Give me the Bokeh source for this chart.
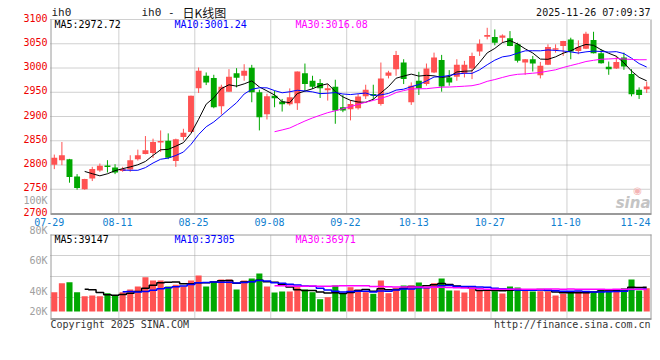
import numpy as np
from bokeh.plotting import figure
from bokeh.models import ColumnDataSource, Range1d, Label
from bokeh.embed import file_html
from bokeh.resources import INLINE

# ---------------- data ----------------
dates = ["07-29", "07-30", "07-31", "08-01", "08-04", "08-05", "08-06", "08-07", "08-08",
         "08-11", "08-12", "08-13", "08-14", "08-15", "08-18", "08-19", "08-20", "08-21", "08-22",
         "08-25", "08-26", "08-27", "08-28", "08-29", "09-01", "09-02", "09-03", "09-04", "09-05",
         "09-08", "09-09", "09-10", "09-11", "09-12", "09-15", "09-16", "09-17", "09-18", "09-19",
         "09-22", "09-23", "09-24", "09-25", "09-26", "09-29", "09-30", "10-09", "10-10",
         "10-13", "10-14", "10-15", "10-16", "10-17", "10-20", "10-21", "10-22", "10-23", "10-24",
         "10-27", "10-28", "10-29", "10-30", "10-31", "11-03", "11-04", "11-05", "11-06", "11-07",
         "11-10", "11-11", "11-12", "11-13", "11-14", "11-17", "11-18", "11-19", "11-20", "11-21",
         "11-24"]

opens = [2800.3, 2809.9, 2811.9, 2776.4, 2749.8, 2772.4, 2788.7, 2799.0, 2794.9, 2787.4,
         2790.8, 2811.9, 2822.9, 2824.9, 2846.7, 2850.2, 2808.5, 2857.7, 2867.9, 2958.0,
         2984.0, 2979.2, 2921.2, 2951.2, 2989.4, 2984.0, 3000.3, 2949.8, 2904.8, 2943.0,
         2930.7, 2925.3, 2927.3, 2989.4, 2973.7, 2968.9, 2953.9, 2961.4, 2919.1,
         2915.0, 2917.0, 2941.6, 2946.4, 2925.9, 2984.0, 2997.6, 3011.3, 2929.4, 2973.7,
         2966.9, 2990.8, 3016.7, 2980.5, 2981.9, 2989.4, 2999.0, 3033.8, 3064.5, 3063.8,
         3062.5, 3061.1, 3048.8, 3011.3, 3018.1, 2985.3, 3006.5, 3038.6, 3045.4, 3059.0,
         3035.2, 3039.9, 3057.7, 3030.4, 3002.4, 2999.0, 3021.5, 2987.4, 2955.3, 2956.0]
highs = [2821.5, 2847.4, 2812.6, 2781.2, 2771.5, 2796.2, 2803.1, 2809.9, 2801.7, 2796.2,
         2820.1, 2831.7, 2859.7, 2854.3, 2871.3, 2865.2, 2854.3, 2874.7, 2943.0, 3001.0,
         2990.8, 2986.0, 2965.5, 2997.6, 2999.7, 3007.8, 3006.5, 2955.3, 2947.1, 2953.2,
         2936.2, 2958.0, 2992.8, 3009.2, 2984.0, 2977.1, 2966.9, 2975.8, 2944.4,
         2934.0, 2946.4, 2965.5, 2965.5, 3011.3, 2994.2, 3035.2, 3018.1, 2970.3, 2992.2,
         3009.2, 3031.7, 3027.0, 2995.6, 3018.1, 3014.7, 3031.7, 3059.0, 3082.9, 3079.5,
         3069.3, 3076.1, 3052.2, 3018.5, 3024.9, 3012.6, 3048.8, 3048.8, 3056.0, 3062.5,
         3057.0, 3074.7, 3074.7, 3038.6, 3013.3, 3024.9, 3031.7, 2997.6, 2960.0, 2971.7]
lows = [2791.5, 2799.7, 2763.5, 2749.1, 2749.0, 2766.9, 2786.0, 2784.6, 2781.2, 2786.0,
        2786.0, 2809.2, 2822.0, 2814.7, 2827.0, 2812.0, 2796.2, 2850.9, 2867.0, 2948.5,
        2964.8, 2917.0, 2904.1, 2951.0, 2960.0, 2973.7, 2929.4, 2871.3, 2893.9, 2919.1,
        2910.2, 2922.5, 2913.6, 2951.2, 2956.7, 2938.2, 2932.8, 2885.0, 2908.9,
        2892.0, 2914.3, 2936.2, 2934.8, 2922.5, 2978.5, 2984.0, 2966.9, 2923.9, 2944.4,
        2963.5, 2989.4, 2951.2, 2963.5, 2973.7, 2980.5, 2977.1, 3024.9, 3059.0, 3046.8,
        3052.2, 3045.0, 3011.3, 2986.0, 2992.8, 2978.5, 3006.0, 3031.7, 3024.9, 3018.1,
        3028.3, 3039.0, 3030.0, 3009.0, 2986.0, 2998.0, 2996.2, 2941.6, 2936.2, 2948.5]
closes = [2814.7, 2820.1, 2775.1, 2752.6, 2771.0, 2791.5, 2798.3, 2796.2, 2784.6, 2791.5,
          2809.9, 2820.1, 2830.4, 2847.4, 2848.8, 2814.7, 2852.9, 2866.6, 2943.0, 2994.2,
          2970.3, 2919.1, 2961.4, 2981.9, 2979.9, 2994.2, 2949.8, 2898.6, 2941.6, 2937.5,
          2925.3, 2939.6, 2992.8, 2966.9, 2961.4, 2958.0, 2958.0, 2912.3, 2912.3,
          2925.9, 2941.0, 2955.3, 2943.0, 2978.5, 2990.8, 3027.0, 2977.1, 2963.5, 2958.0,
          2999.0, 3021.5, 2962.1, 2970.3, 3006.5, 3006.5, 3024.9, 3050.2, 3067.9, 3052.2,
          3067.2, 3045.4, 3014.7, 3018.1, 3009.2, 3004.4, 3043.3, 3040.0, 3055.6, 3033.8,
          3043.3, 3070.6, 3030.4, 3009.9, 2997.6, 3012.6, 3003.1, 2945.7, 2944.4, 2962.1]
volumes = [34800, 43800, 44800, 34800, 30800, 31500, 30800, 33800, 31500, 34800,
           37500, 40500, 49800, 46500, 46500, 40500, 42200, 40500, 46500, 51500,
           40500, 45500, 47500, 47500, 37500, 46500, 48500, 53500, 40500, 34500,
           35500, 35500, 39800, 37500, 34800, 27800, 29800, 41500, 33800, 39800,
           37500, 34800, 33200, 46500, 33800, 38800, 41500, 41500, 44500, 39800,
           43800, 48500, 36500, 36500, 34500, 38200, 36500, 37500, 35800, 33500,
           40500, 39500, 36200, 35500, 35800, 35500, 31500, 33200, 35800, 35800,
           35500, 34800, 37500, 37500, 37500, 38800, 47500, 36500, 38800]

label_dates = ["07-29", "08-11", "08-25", "09-08", "09-22", "10-13", "10-27", "11-10", "11-24"]
price_ticks = [2700, 2750, 2800, 2850, 2900, 2950, 3000, 3050, 3100]
vol_labels = ["20K", "40K", "60K", "80K", "100K"]
symbol = "ih0"
title_code = "ih0 -"
title_cn = "日K线图"
timestamp = "2025-11-26 07:09:37"
price_ma_text = ["MA5:2972.72", "MA10:3001.24", "MA30:3016.08"]
vol_ma_text = ["MA5:39147", "MA10:37305", "MA30:36971"]
copyright_text = "Copyright 2025 SINA.COM"
url_text = "http://finance.sina.com.cn"

# ---------------- style / geometry (pixels) ----------------
RED = "#ff5252"
GREEN = "#00a800"
GRID = "#a0a0a0"
BORDER = "#9a9a9a"
DATE_BLUE = "#1080d0"
MONO = "DejaVu Sans Mono"
FS = "10px"
MA_COLORS = ["black", "#0000ff", "#ff00ff"]
MA_WINDOWS = [5, 10, 30]
W, H = 652, 334
FL, FR = 50, 650          # panel left / right
PT, PB = 19, 213          # price panel top / bottom
VT, VB = 234, 318         # volume panel top / bottom
V_FLOOR = 311             # bar base line
MA_TEXT_PX = [54, 174, 295]

n = len(dates)
x_lo, x_hi = -0.5, n - 0.5
px_x = (x_hi - x_lo) / (FR - FL)
p_lo, p_hi = price_ticks[0], price_ticks[-1]
px_p = (p_hi - p_lo) / (PB - PT)
v_lo, v_hi = 8500, 92500
px_v = (v_hi - v_lo) / (VB - VT)

def X(px):            # page x -> data x
    return x_lo + (px - FL) * px_x
def P(py):            # page y -> price
    return p_hi - (py - PT) * px_p
def V(py):            # page y -> volume
    return v_lo + (VB - py) * px_v

p = figure(width=W, height=H, output_backend="svg", toolbar_location=None,
           x_axis_type=None, y_axis_type=None,
           x_range=Range1d(X(0), X(W)), y_range=Range1d(P(H), P(0)),
           min_border=0, min_border_left=0, min_border_right=0,
           min_border_top=0, min_border_bottom=0)
p.extra_y_ranges = {"vol": Range1d(V(H), V(0))}
p.grid.visible = False
p.outline_line_color = None
p.background_fill_color = "white"
p.border_fill_color = "white"

# ---------------- derived values ----------------
x = np.arange(n)
o = np.array(opens); h = np.array(highs); l = np.array(lows); c = np.array(closes)
up = c >= o
colors = [RED if u else GREEN for u in up]
top = np.maximum(o, c)
bot = np.minimum(o, c)
thin = (top - bot) < 1.5 * px_p
mid = (o + c) / 2
top = np.where(thin, mid + 0.75 * px_p, top)
bot = np.where(thin, mid - 0.75 * px_p, bot)
src = ColumnDataSource(dict(x=x, h=h, l=l, top=top, bot=bot, color=colors,
                            vol=np.array(volumes, dtype=float)))

def ma(arr, w):
    a = np.asarray(arr, dtype=float)
    s = np.full(len(a), np.nan)
    for i in range(w - 1, len(a)):
        s[i] = a[i - w + 1:i + 1].mean()
    return s

tick_idx = [dates.index(d) for d in label_dates]
grid_x = [i - 0.5 for i in tick_idx]      # slot left edges

# ---------------- grids & borders ----------------
gx = grid_x[1:-1]
p.segment(x0=gx, x1=gx, y0=[p_lo] * len(gx), y1=[p_hi] * len(gx),
          line_color=GRID, line_dash="1 1", line_width=1)
p.segment(x0=gx, x1=gx, y0=[v_lo] * len(gx), y1=[v_hi] * len(gx),
          line_color=GRID, line_dash="1 1", line_width=1, y_range_name="vol")
gy = price_ticks[1:]
p.segment(x0=[x_lo] * len(gy), x1=[x_hi] * len(gy), y0=gy, y1=gy,
          line_color=GRID, line_dash="1 1", line_width=1)
vgy = [v_lo + k * (v_hi - v_lo) / 4 for k in (1, 2, 3)]
p.segment(x0=[x_lo] * 3, x1=[x_hi] * 3, y0=vgy, y1=vgy,
          line_color=GRID, line_dash="1 1", line_width=1, y_range_name="vol")
edge_l, edge_r = X(FL + 0.5), X(FR + 0.5)
p.segment(x0=[edge_l, edge_r], x1=[edge_l, edge_r], y0=[p_lo, p_lo], y1=[p_hi, p_hi],
          line_color=BORDER, line_width=1)
p.segment(x0=[x_lo], x1=[X(FR + 1)], y0=[P(PB + 0.5)], y1=[P(PB + 0.5)],
          line_color=BORDER, line_width=2)
p.segment(x0=[edge_l, edge_r], x1=[edge_l, edge_r], y0=[v_lo, v_lo], y1=[v_hi, v_hi],
          line_color=BORDER, line_width=1, y_range_name="vol")
p.segment(x0=[x_lo, x_lo], x1=[X(FR + 1), X(FR + 1)], y0=[V(VT + 0.5), V(VB + 0.5)],
          y1=[V(VT + 0.5), V(VB + 0.5)], line_color=BORDER, line_width=[1, 2],
          y_range_name="vol")

# ---------------- price panel ----------------
p.segment(x0="x", y0="l", x1="x", y1="h", line_color="color", line_width=1, source=src)
p.vbar(x="x", width=0.78, top="top", bottom="bot", fill_color="color",
       line_color=None, source=src)
for w, col in zip(MA_WINDOWS, MA_COLORS):
    p.line(x, ma(closes, w), line_color=col, line_width=1)

# ---------------- volume panel ----------------
p.vbar(x="x", width=0.8, top="vol", bottom=V(V_FLOOR), fill_color="color",
       line_color=None, source=src, y_range_name="vol")
for w, col in zip(MA_WINDOWS, MA_COLORS):
    p.step(x, ma(volumes, w), mode="center", line_color=col, line_width=1.5,
           y_range_name="vol")

# ---------------- texts ----------------
def lab(px, py, text, color, align="left", size=FS, font=MONO, style="normal"):
    p.add_layout(Label(x=X(px), y=P(py), text=text, text_color=color, text_align=align,
                       text_baseline="middle", text_font=font, text_font_size=size,
                       text_font_style=style))

for t in price_ticks:
    py = PT + (p_hi - t) / px_p - 2
    lab(47, py, str(t), "#ee0000", align="right")
for d, g in zip(label_dates, grid_x):
    gpx = FL + (g - x_lo) / px_x - 1.3
    gpx = min(gpx, FR - 15)
    lab(gpx, 221, d, DATE_BLUE, align="center")
for txt, mx, col in zip(price_ma_text, MA_TEXT_PX, MA_COLORS):
    lab(mx, 24, txt, col)
for txt, mx, col in zip(vol_ma_text, MA_TEXT_PX, MA_COLORS):
    lab(mx, 239, txt, col)
lab(51, 12, symbol, "#222222", size="11px")
lab(141, 12, title_code, "#222222", size="11px")
lab(182, 11.5, title_cn, "#111111", size="12px", font="Noto Sans CJK SC")
lab(650, 12, timestamp, "#111111", align="right")
for txt, py in zip(vol_labels, [311, 291, 260, 230, 200]):
    lab(47, py, txt, "#a0a0a0", align="right")
lab(50, 324, copyright_text, "#333333")
lab(650, 324, url_text, "#333333", align="right")
lab(650, 202, "sina", "#c4c4c4", align="right", size="15px", font="DejaVu Sans",
    style="bold italic")
lab(637, 190, "◉", "#f4b4b4", align="center", size="10px", font="DejaVu Sans")

open("out.html", "w").write(file_html(p, INLINE))
